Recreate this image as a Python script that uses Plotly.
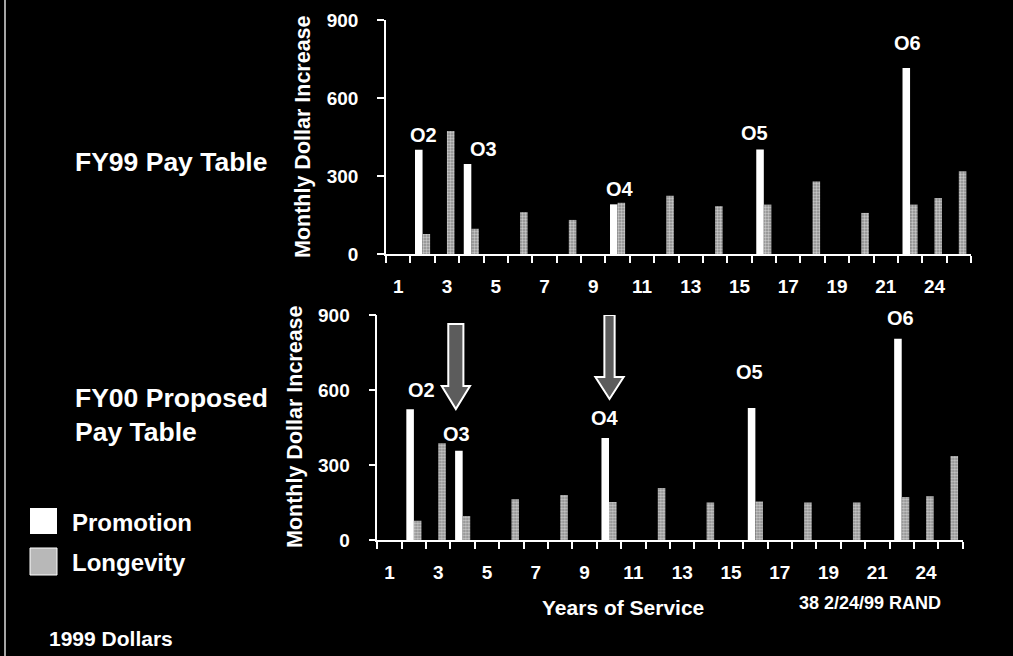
import plotly.graph_objects as go

# ---------------- data ----------------
years = [str(i) for i in range(1, 23)] + ["24", "26"]
tick_labels = ["1", "3", "5", "7", "9", "11", "13", "15", "17", "19", "21", "24"]

fy99_promotion = [0, 401, 0, 346, 0, 0, 0, 0, 0, 191, 0, 0, 0, 0, 0, 402, 0, 0, 0, 0, 0, 715, 0, 0]
fy99_longevity = [0, 77, 473, 97, 0, 161, 0, 131, 0, 197, 0, 224, 0, 184, 0, 190, 0, 279, 0, 158, 0, 190, 215, 318]

fy00_promotion = [0, 523, 0, 357, 0, 0, 0, 0, 0, 408, 0, 0, 0, 0, 0, 528, 0, 0, 0, 0, 0, 805, 0, 0]
fy00_longevity = [0, 77, 387, 96, 0, 163, 0, 180, 0, 152, 0, 208, 0, 150, 0, 154, 0, 150, 0, 150, 0, 172, 175, 336]

top_labels = [("O2", 2.02, 458), ("O3", 4.48, 404), ("O4", 10.1, 250), ("O5", 15.6, 465), ("O6", 21.9, 812)]
bot_labels = [("O2", 2.32, 600), ("O3", 3.76, 424), ("O4", 9.84, 488), ("O5", 15.74, 672), ("O6", 21.93, 888)]
# arrows: (center x, top y, head-start y, tip y, shaft half-width, head half-width)
arrows = [(3.72, 864, 616, 524, 0.31, 0.58), (10.02, 900, 652, 564, 0.21, 0.58)]

# ---------------- figure ----------------
W, H = 1013, 656
FONT = "Liberation Sans, Arial, Helvetica, sans-serif"
xpos = list(range(1, len(years) + 1))
tickpos = [years.index(t) + 1 for t in tick_labels]

gray_marker = dict(color="#8c8c8c", line=dict(width=0),
                   pattern=dict(shape=".", fgcolor="#ffffff", size=3, solidity=0.5, fillmode="overlay"))
white_marker = dict(color="#ffffff", line=dict(width=0))

fig = go.Figure()
fig.add_trace(go.Bar(x=xpos, y=fy99_promotion, name="Promotion", marker=white_marker, xaxis="x", yaxis="y"))
fig.add_trace(go.Bar(x=xpos, y=fy99_longevity, name="Longevity", marker=gray_marker, xaxis="x", yaxis="y"))
fig.add_trace(go.Bar(x=xpos, y=fy00_promotion, name="Promotion", marker=white_marker, xaxis="x2", yaxis="y2"))
fig.add_trace(go.Bar(x=xpos, y=fy00_longevity, name="Longevity", marker=gray_marker, xaxis="x2", yaxis="y2"))


def px(x):
    return x / W


def py(y):
    return (H - y) / H


xcommon = dict(range=[0.5, len(years) + 0.5], showline=True, linecolor="white", linewidth=1.5,
               tickvals=tickpos, ticktext=tick_labels, ticks="", showgrid=False, zeroline=False,
               tickfont=dict(family=FONT, size=19, color="white", weight="bold"),
               ticklabelstandoff=14, automargin=False,
               minor=dict(ticks="outside", tick0=0.5, dtick=1, ticklen=7, tickwidth=1.5, tickcolor="white", showgrid=False),
               fixedrange=True)
ycommon = dict(range=[0, 900], tickvals=[0, 300, 600, 900], showline=True, linecolor="white", linewidth=1.5,
               ticks="outside", ticklen=7, tickwidth=1.5, tickcolor="white", showgrid=False, zeroline=False,
               tickfont=dict(family=FONT, size=19, color="white", weight="bold"), ticklabelstandoff=15,
               automargin=False, fixedrange=True)

fig.update_layout(
    template="none",
    width=W, height=H, margin=dict(l=0, r=0, t=0, b=0, autoexpand=False),
    paper_bgcolor="black", plot_bgcolor="black",
    font=dict(family=FONT, color="white", weight="bold"),
    barmode="group", bargap=0.38, bargroupgap=0.0, showlegend=False,
    xaxis=dict(domain=[px(386), px(971)], anchor="y", **xcommon),
    yaxis=dict(domain=[py(254), py(20)], anchor="x", **ycommon),
    xaxis2=dict(domain=[px(377.3), px(962.7)], anchor="y2", **xcommon),
    yaxis2=dict(domain=[py(540), py(315)], anchor="x2", **ycommon),
)

ann = []


def text(t, x, y, size, xanchor="left", angle=0):
    ann.append(dict(text=t, x=px(x), y=py(y), xref="paper", yref="paper", xanchor=xanchor, yanchor="middle",
                    showarrow=False, textangle=angle,
                    font=dict(family=FONT, size=size, color="white", weight="bold")))


for t, x, y in top_labels:
    ann.append(dict(text=t, x=x, y=y, xref="x", yref="y", showarrow=False, xanchor="center", yanchor="middle",
                    font=dict(family=FONT, size=20, color="white", weight="bold")))
for t, x, y in bot_labels:
    ann.append(dict(text=t, x=x, y=y, xref="x2", yref="y2", showarrow=False, xanchor="center", yanchor="middle",
                    font=dict(family=FONT, size=20, color="white", weight="bold")))

text("Monthly Dollar Increase", 303, 137, 21.5, "center", -90)
text("Monthly Dollar Increase", 295, 427, 21.5, "center", -90)
text("FY99 Pay Table", 73, 162, 26.5)
text("FY00 Proposed", 73, 398, 26.5)
text("Pay Table", 73, 432, 26.5)
text("Promotion", 70, 522, 24)
text("Longevity", 70, 562, 24)
text("1999 Dollars", 47, 638, 21)
text("Years of Service", 623, 607, 21, "center")
text("38 2/24/99 RAND", 797, 603, 18)
fig.update_layout(annotations=ann)

shapes = []
for cx, top, hs, tip, sw, hw in arrows:
    path = (f"M {cx - sw},{top} L {cx + sw},{top} L {cx + sw},{hs} L {cx + hw},{hs} "
            f"L {cx},{tip} L {cx - hw},{hs} L {cx - sw},{hs} Z")
    shapes.append(dict(type="path", path=path, xref="x2", yref="y2", fillcolor="#5c5c5c",
                       line=dict(color="white", width=2)))
# legend swatches
shapes.append(dict(type="rect", xref="paper", yref="paper", x0=px(30), x1=px(57), y0=py(534), y1=py(508),
                   fillcolor="white", line=dict(width=0)))
shapes.append(dict(type="rect", xref="paper", yref="paper", x0=px(30), x1=px(57), y0=py(575), y1=py(548),
                   fillcolor="#b8b8b8", line=dict(color="white", width=1)))
# frame line at left edge
shapes.append(dict(type="line", xref="paper", yref="paper", x0=px(5), x1=px(5), y0=0, y1=1,
                   line=dict(color="#dddddd", width=1.5)))
fig.update_layout(shapes=shapes)

fig.write_html("out.html", config={"displayModeBar": False},
               post_script="document.body.style.margin='0';document.body.style.background='black';")
